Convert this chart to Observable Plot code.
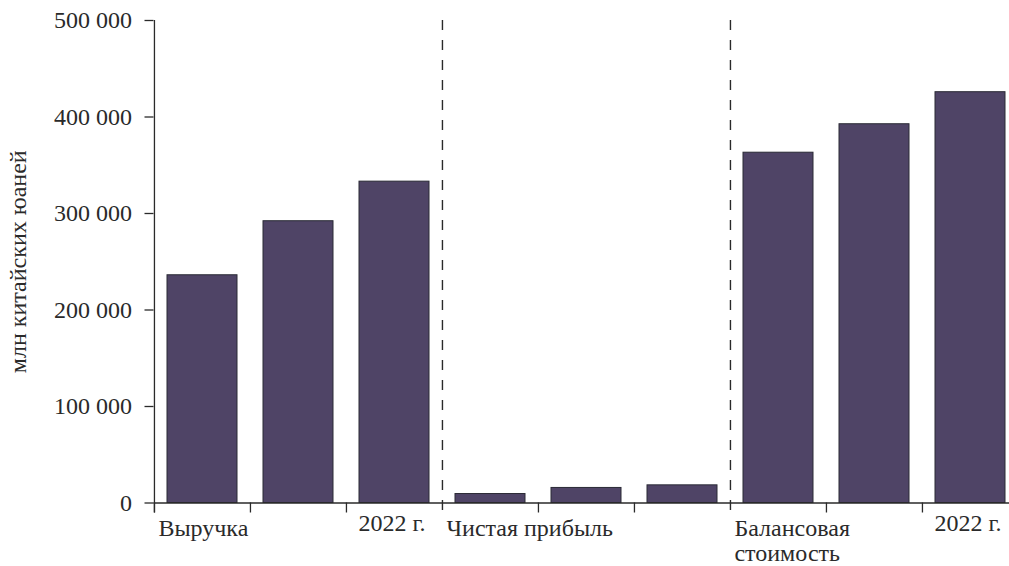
<!DOCTYPE html>
<html>
<head>
<meta charset="utf-8">
<script src="https://cdn.jsdelivr.net/npm/d3@7"></script>
<script src="https://cdn.jsdelivr.net/npm/@observablehq/plot@0.6"></script>
<style>
  html, body { margin: 0; padding: 0; background: #fff; }
  #chart { width: 1009px; height: 566px; }
  #chart svg, #chart svg text { font-family: "Liberation Serif", "DejaVu Serif", serif !important; }
</style>
</head>
<body>
<div id="chart"></div>
<script>
// ---- data ----
const groups = ["Выручка", "Чистая прибыль", "Балансовая стоимость"];
const years = ["2020 г.", "2021 г.", "2022 г."];
const revenue = [236000, 292000, 333000];
const netProfit = [9300, 15600, 18300];
const bookValue = [363000, 392500, 425700];
const yTicks = [0, 100000, 200000, 300000, 400000, 500000];
const groupLabels = ["Выручка", "Чистая прибыль", "Балансовая\nстоимость"];
const yearLabel = "2022 г.";
const yLabel = "млн китайских юаней";

// ---- build table ----
const seriesValues = [revenue, netProfit, bookValue];
const rows = [];
groups.forEach((g, gi) => {
  years.forEach((yr, yi) => {
    rows.push({key: g + " " + yr, group: g, year: yr, gi, yi, value: seriesValues[gi][yi]});
  });
});
const domain = rows.map(d => d.key);
const groupStarts = rows.filter(d => d.yi === 0);
const groupNameRows = groupStarts.map((d, i) => ({key: d.key, label: groupLabels[i]}));
const yearRows = rows.filter(d => d.yi === 2 && (d.gi === 0 || d.gi === 2)).map(d => ({key: d.key, label: yearLabel}));
const separators = rows.filter(d => d.yi === 0 && d.gi > 0);
const boundaryTicks = rows.filter(d => !(d.yi === 0 && d.gi > 0));

const step = (1018.4 - 153.5) / 9;
const half = step / 2;
const font = "Liberation Serif";
const ink = "#2a2a2a";
const fs = 24;

const chart = Plot.plot({
  width: 1009,
  height: 566,
  marginLeft: 153.5,
  marginRight: 0,
  marginTop: 20,
  marginBottom: 63.5,
  style: {fontSize: fs + "px", color: ink, background: "#fff"},
  x: {type: "band", domain, range: [153.5, 1018.4], paddingInner: 0.272, paddingOuter: 0.136, axis: null},
  y: {domain: [0, 500000], axis: null},
  marks: [
    Plot.barY(rows, {x: "key", y: "value", fill: "#4f4466", stroke: "#2a2a35", strokeWidth: 1}),
    Plot.ruleY([0], {stroke: ink, strokeWidth: 1.3}),
    Plot.ruleX([domain[0]], {x: d => d, y1: () => 500000, y2: () => 0, dx: -half, insetBottom: -10, stroke: ink, strokeWidth: 1.3}),
    Plot.ruleX(boundaryTicks, {x: "key", y1: () => 0, y2: () => 0, dx: -half, insetBottom: -10, stroke: ink, strokeWidth: 1.3}),
    Plot.ruleX(separators, {x: "key", y1: () => 500000, y2: () => 0, dx: -half, insetBottom: -10, stroke: ink, strokeWidth: 1.4, strokeDasharray: "10,10"}),
    Plot.axisY({ticks: yTicks, tickSize: 9, tickPadding: 13, tickFormat: d => d3.format(",")(d).replace(/,/g, "\u00a0"),
      stroke: ink, strokeWidth: 1.3, fill: ink, fontSize: fs, fontFamily: font,
      label: yLabel, labelAnchor: "center", labelOffset: 145, labelArrow: false}),
    Plot.text(groupNameRows, {x: "key", y: () => 0, text: "label", dx: -half + 4, dy: 15, textAnchor: "start", lineAnchor: "top", lineHeight: 1.04, fill: ink, fontSize: fs, fontFamily: font}),
    Plot.text(yearRows, {x: "key", y: () => 0, text: "label", dx: -half + 12, dy: 11, textAnchor: "start", lineAnchor: "top", fill: ink, fontSize: fs, fontFamily: font})
  ]
});
document.getElementById("chart").appendChild(chart);
</script>
</body>
</html>
